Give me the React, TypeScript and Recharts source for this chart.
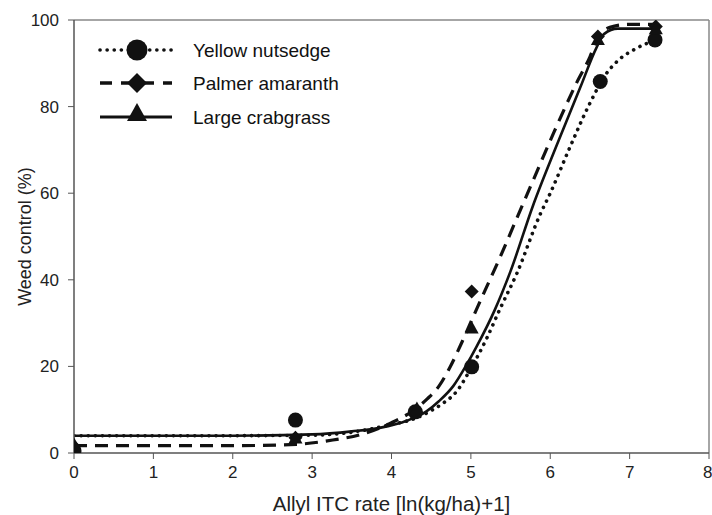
import { ComposedChart, Line, Scatter, XAxis, YAxis, ReferenceLine, Label } from "recharts";

const xTicks = [0, 1, 2, 3, 4, 5, 6, 7, 8];
const yTicks = [0, 20, 40, 60, 80, 100];

const seriesNames = ["Yellow nutsedge", "Palmer amaranth", "Large crabgrass"];

// observed means
const nutsedgeObs = [
  { x: 0, y: 0.5 }, { x: 2.79, y: 7.6 }, { x: 4.3, y: 9.5 },
  { x: 5.01, y: 19.9 }, { x: 6.63, y: 85.8 }, { x: 7.32, y: 95.4 },
];
const palmerObs = [
  { x: 0, y: 1.5 }, { x: 2.79, y: 3.5 }, { x: 4.3, y: 9.5 },
  { x: 5.01, y: 37.3 }, { x: 6.6, y: 96.2 }, { x: 7.33, y: 98.5 },
];
const crabgrassObs = [
  { x: 0, y: 2 }, { x: 2.79, y: 3.5 }, { x: 4.32, y: 10.3 },
  { x: 5.01, y: 28.9 }, { x: 6.6, y: 95.5 }, { x: 7.33, y: 98 },
];

// fitted curves
const nutsedgeFit = [
  { x: 0, y: 4.0 }, { x: 1, y: 4.0 }, { x: 2, y: 4.0 }, { x: 3, y: 4.1 },
  { x: 3.5, y: 4.8 }, { x: 3.98, y: 6.5 }, { x: 4.3, y: 8.0 }, { x: 4.5, y: 9.8 },
  { x: 4.65, y: 11.5 }, { x: 4.82, y: 14.2 }, { x: 4.99, y: 19.2 }, { x: 5.2, y: 26.5 },
  { x: 5.37, y: 33.4 }, { x: 5.58, y: 41.5 }, { x: 5.87, y: 55 }, { x: 6.0, y: 60 },
  { x: 6.25, y: 70.7 }, { x: 6.5, y: 80.8 }, { x: 6.71, y: 87.7 }, { x: 6.84, y: 90.4 },
  { x: 7.09, y: 93.5 }, { x: 7.35, y: 95.5 },
];
const palmerFit = [
  { x: 0, y: 1.7 }, { x: 1, y: 1.7 }, { x: 2, y: 1.7 }, { x: 2.8, y: 2.0 },
  { x: 3.26, y: 3.0 }, { x: 3.64, y: 4.4 }, { x: 4.0, y: 7.0 }, { x: 4.25, y: 9.5 },
  { x: 4.45, y: 12.5 }, { x: 4.6, y: 15.5 }, { x: 4.74, y: 19.9 }, { x: 4.89, y: 25.7 },
  { x: 5.03, y: 31.5 }, { x: 5.18, y: 37.6 }, { x: 5.37, y: 45.3 }, { x: 5.62, y: 56 },
  { x: 5.75, y: 61.5 }, { x: 6.04, y: 73.8 }, { x: 6.33, y: 85.4 }, { x: 6.5, y: 91.5 },
  { x: 6.6, y: 96 }, { x: 6.75, y: 98.3 }, { x: 7.0, y: 99 }, { x: 7.35, y: 99 },
];
const crabgrassFit = [
  { x: 0, y: 4.0 }, { x: 1, y: 4.0 }, { x: 2, y: 4.0 }, { x: 3, y: 4.3 },
  { x: 3.5, y: 5.0 }, { x: 3.85, y: 5.8 }, { x: 4.2, y: 7.5 }, { x: 4.44, y: 9.6 },
  { x: 4.6, y: 12 }, { x: 4.78, y: 15.5 }, { x: 4.95, y: 20.5 }, { x: 5.07, y: 24.5 },
  { x: 5.3, y: 33 }, { x: 5.5, y: 42 }, { x: 5.78, y: 57 }, { x: 6.08, y: 71 },
  { x: 6.38, y: 84.5 }, { x: 6.58, y: 93.5 }, { x: 6.68, y: 96.8 }, { x: 6.85, y: 98 },
  { x: 7.1, y: 98 }, { x: 7.35, y: 98 },
];

const font = "'Liberation Sans', Arial, sans-serif";
const ink = "#111";

function Marker({ kind, cx, cy, s = 7.5 }: { kind: string; cx: number; cy: number; s?: number }) {
  if (kind === "circle") return <circle cx={cx} cy={cy} r={s} fill={ink} />;
  if (kind === "diamond")
    return <polygon points={`${cx},${cy - s} ${cx + s},${cy} ${cx},${cy + s} ${cx - s},${cy}`} fill={ink} />;
  return <polygon points={`${cx},${cy - s} ${cx + s},${cy + s * 0.8} ${cx - s},${cy + s * 0.8}`} fill={ink} />;
}

const legendStyles = [
  { kind: "circle", dash: "0.1 7", width: 3.6, cap: "round" },
  { kind: "diamond", dash: "12 9", width: 3.4, cap: "butt" },
  { kind: "triangle", dash: undefined, width: 2.8, cap: "butt" },
];

function LegendBox() {
  const rows = [50, 83, 117];
  return (
    <svg width={360} height={140} style={{ position: "absolute", left: 0, top: 0, overflow: "visible" }}>
      {seriesNames.map((name, i) => {
        const y = rows[i];
        const st = legendStyles[i];
        return (
          <g key={name}>
            <line x1={100} x2={172} y1={y} y2={y} stroke={ink} strokeWidth={st.width}
              strokeDasharray={st.dash} strokeLinecap={st.cap as any} />
            <Marker kind={st.kind} cx={137} cy={i === 2 ? y - 4 : y} s={i === 0 ? 10.5 : 10} />
            <text x={193} y={y + 7} fontSize={19} fontFamily={font} fill={ink}>{name}</text>
          </g>
        );
      })}
    </svg>
  );
}

export default function App() {
  return (
    <div style={{ position: "absolute", left: 0, top: 0, width: 712, height: 515, background: "#fff" }}>
      <ComposedChart width={712} height={515} margin={{ top: 20, right: 3, bottom: 4, left: 14 }}>
        <XAxis
          type="number" dataKey="x" domain={[0, 8]} ticks={xTicks} allowDataOverflow
          tick={{ fontSize: 17, fill: "#222", fontFamily: font }}
          tickLine={{ stroke: "#555" }} tickSize={6} tickMargin={7}
          axisLine={{ stroke: "#555", strokeWidth: 1.5 }} height={58}
        >
          <Label value="Allyl ITC rate [ln(kg/ha)+1]" position="insideBottom" offset={0}
            style={{ fontSize: 20.5, fill: "#222", fontFamily: font }} />
        </XAxis>
        <YAxis
          type="number" dataKey="y" domain={[0, 100]} ticks={yTicks} allowDataOverflow
          tick={{ fontSize: 17, fill: "#222", fontFamily: font }}
          tickLine={{ stroke: "#555" }} tickSize={6} tickMargin={9}
          axisLine={{ stroke: "#555", strokeWidth: 1.5 }} width={60}
        >
          <Label value="Weed control (%)" angle={-90} position="insideLeft" offset={11}
            style={{ fontSize: 18, fill: "#222", fontFamily: font, textAnchor: "middle" }} />
        </YAxis>
        <ReferenceLine y={100} stroke="#888" strokeWidth={1.5} />
        <ReferenceLine x={8} stroke="#888" strokeWidth={1.5} />
        <Line data={nutsedgeFit} dataKey="y" type="monotone" stroke={ink} strokeWidth={3.6}
          strokeDasharray="0.1 7" strokeLinecap="round" dot={false} isAnimationActive={false} />
        <Line data={palmerFit} dataKey="y" type="monotone" stroke={ink} strokeWidth={3.2}
          strokeDasharray="13 8" dot={false} isAnimationActive={false} />
        <Line data={crabgrassFit} dataKey="y" type="monotone" stroke={ink} strokeWidth={2.6}
          dot={false} isAnimationActive={false} />
        <Scatter data={nutsedgeObs} fill={ink} isAnimationActive={false}
          shape={(p: any) => <Marker kind="circle" cx={p.cx} cy={p.cy} />} />
        <Scatter data={palmerObs} fill={ink} isAnimationActive={false}
          shape={(p: any) => <Marker kind="diamond" cx={p.cx} cy={p.cy} s={7} />} />
        <Scatter data={crabgrassObs} fill={ink} isAnimationActive={false}
          shape={(p: any) => <Marker kind="triangle" cx={p.cx} cy={p.cy} s={7} />} />
      </ComposedChart>
      <LegendBox />
    </div>
  );
}
